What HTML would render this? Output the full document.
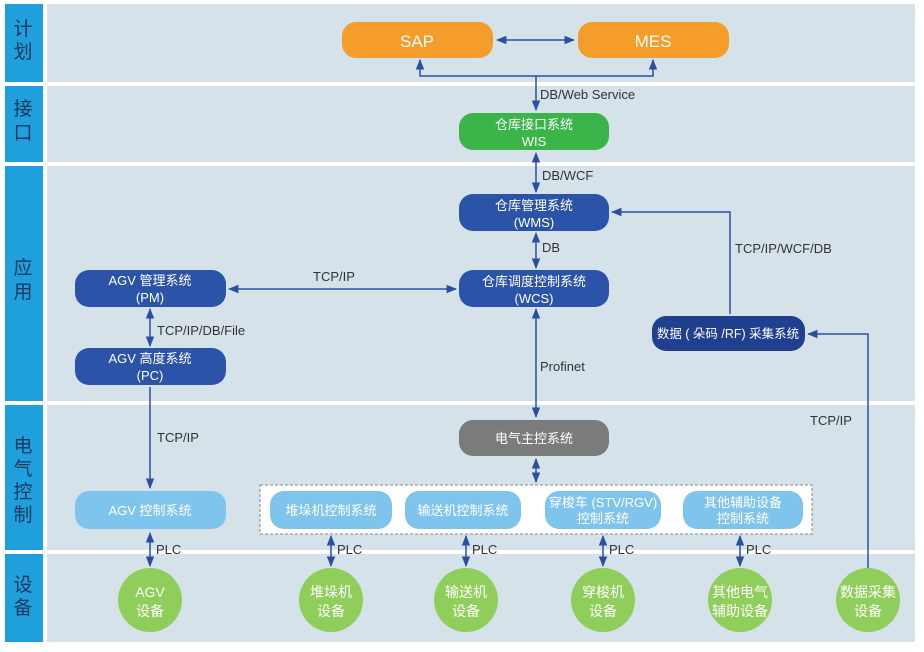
<!DOCTYPE html>
<html><head><meta charset="utf-8"><style>
html,body{margin:0;padding:0;background:#fff;}
svg text{font-family:"Liberation Sans","Noto Sans CJK SC",sans-serif;}
</style></head><body>
<svg width="924" height="647" viewBox="0 0 924 647" xmlns="http://www.w3.org/2000/svg">
<defs>
<marker id="a" viewBox="0 0 10 10" refX="9" refY="5" markerWidth="7" markerHeight="7" orient="auto-start-reverse"><path d="M0,1 L10,5 L0,9 z" fill="#2d4fa0"/></marker>
</defs>
<rect width="924" height="647" fill="#fff"/>
<g fill="#1fa0dc">
<rect x="5" y="4" width="38" height="78"/>
<rect x="5" y="86" width="38" height="76"/>
<rect x="5" y="166" width="38" height="235"/>
<rect x="5" y="405" width="38" height="145"/>
<rect x="5" y="554" width="38" height="88"/>
</g>
<g fill="#d5e2e9">
<rect x="47" y="4" width="868" height="78"/>
<rect x="47" y="86" width="868" height="76"/>
<rect x="47" y="166" width="868" height="235"/>
<rect x="47" y="405" width="868" height="145"/>
<rect x="47" y="554" width="868" height="88"/>
</g>
<g fill="#17375e" font-size="19" text-anchor="middle">
<text x="23" y="35">计</text><text x="23" y="58">划</text>
<text x="23" y="115">接</text><text x="23" y="139">口</text>
<text x="23" y="274">应</text><text x="23" y="298">用</text>
<text x="23" y="452">电</text><text x="23" y="475">气</text><text x="23" y="498">控</text><text x="23" y="521">制</text>
<text x="23" y="591">设</text><text x="23" y="614">备</text>
</g>
<rect x="342" y="22" width="151" height="36" rx="14" fill="#f59d2a"/>
<rect x="578" y="22" width="151" height="36" rx="14" fill="#f59d2a"/>
<rect x="459" y="113" width="150" height="37" rx="14" fill="#3bb54a"/>
<rect x="459" y="194" width="150" height="37" rx="14" fill="#2b53a7"/>
<rect x="459" y="270" width="150" height="37" rx="14" fill="#2b53a7"/>
<rect x="75" y="270" width="151" height="37" rx="14" fill="#2b53a7"/>
<rect x="75" y="348" width="151" height="37" rx="14" fill="#2b53a7"/>
<rect x="652" y="316" width="153" height="35" rx="14" fill="#213f8f"/>
<rect x="459" y="420" width="150" height="36" rx="14" fill="#7b7b7b"/>
<rect x="260" y="485" width="552" height="49" fill="#fff" stroke="#888" stroke-dasharray="3,2"/>
<g fill="#7fc4ec">
<rect x="75" y="491" width="151" height="38" rx="14"/>
<rect x="270" y="491" width="122" height="38" rx="14"/>
<rect x="405" y="491" width="116" height="38" rx="14"/>
<rect x="545" y="491" width="116" height="38" rx="14"/>
<rect x="683" y="491" width="120" height="38" rx="14"/>
</g>
<g fill="#8fce5a">
<circle cx="150" cy="600" r="32"/>
<circle cx="331" cy="600" r="32"/>
<circle cx="466" cy="600" r="32"/>
<circle cx="603" cy="600" r="32"/>
<circle cx="740" cy="600" r="32"/>
<circle cx="868" cy="600" r="32"/>
</g>
<g fill="#fff" text-anchor="middle" font-size="13">
<text x="417" y="47" font-size="17">SAP</text>
<text x="653" y="47" font-size="17">MES</text>
<text x="534" y="129">仓库接口系统</text><text x="534" y="146">WIS</text>
<text x="534" y="210">仓库管理系统</text><text x="534" y="227">(WMS)</text>
<text x="534" y="286">仓库调度控制系统</text><text x="534" y="303">(WCS)</text>
<text x="150" y="285">AGV 管理系统</text><text x="150" y="302">(PM)</text>
<text x="150" y="363">AGV 高度系统</text><text x="150" y="380">(PC)</text>
<text x="728" y="338" font-size="12.5">数据 ( 朵码 /RF) 采集系统</text>
<text x="534" y="443">电气主控系统</text>
<text x="150" y="515">AGV 控制系统</text>
<text x="331" y="515">堆垛机控制系统</text>
<text x="463" y="515">输送机控制系统</text>
<text x="603" y="507">穿梭车 (STV/RGV)</text><text x="603" y="523">控制系统</text>
<text x="743" y="507">其他辅助设备</text><text x="743" y="523">控制系统</text>
</g>
<g fill="#fff" text-anchor="middle" font-size="14">
<text x="150" y="597">AGV</text><text x="150" y="616">设备</text>
<text x="331" y="597">堆垛机</text><text x="331" y="616">设备</text>
<text x="466" y="597">输送机</text><text x="466" y="616">设备</text>
<text x="603" y="597">穿梭机</text><text x="603" y="616">设备</text>
<text x="740" y="597">其他电气</text><text x="740" y="616">辅助设备</text>
<text x="868" y="597">数据采集</text><text x="868" y="616">设备</text>
</g>
<g stroke="#2d4fa0" stroke-width="1.5" fill="none">
<line x1="497" y1="40" x2="574" y2="40" marker-start="url(#a)" marker-end="url(#a)"/>
<polyline points="420,60 420,76 653,76 653,60" marker-start="url(#a)" marker-end="url(#a)"/>
<line x1="536" y1="76" x2="536" y2="110" marker-end="url(#a)"/>
<line x1="536" y1="153" x2="536" y2="192" marker-start="url(#a)" marker-end="url(#a)"/>
<line x1="536" y1="233" x2="536" y2="268" marker-start="url(#a)" marker-end="url(#a)"/>
<line x1="229" y1="289" x2="456" y2="289" marker-start="url(#a)" marker-end="url(#a)"/>
<line x1="150" y1="309" x2="150" y2="346" marker-start="url(#a)" marker-end="url(#a)"/>
<line x1="536" y1="309" x2="536" y2="417" marker-start="url(#a)" marker-end="url(#a)"/>
<polyline points="730,314 730,212 612,212" marker-end="url(#a)"/>
<polyline points="868,568 868,334 808,334" marker-end="url(#a)"/>
<line x1="150" y1="387" x2="150" y2="488" marker-end="url(#a)"/>
<line x1="536" y1="459" x2="536" y2="482" marker-start="url(#a)" marker-end="url(#a)"/>
<line x1="150" y1="533" x2="150" y2="566" marker-start="url(#a)" marker-end="url(#a)"/>
<line x1="331" y1="536" x2="331" y2="566" marker-start="url(#a)" marker-end="url(#a)"/>
<line x1="466" y1="536" x2="466" y2="566" marker-start="url(#a)" marker-end="url(#a)"/>
<line x1="603" y1="536" x2="603" y2="566" marker-start="url(#a)" marker-end="url(#a)"/>
<line x1="740" y1="536" x2="740" y2="566" marker-start="url(#a)" marker-end="url(#a)"/>
</g>
<g fill="#333" font-size="13">
<text x="540" y="99">DB/Web Service</text>
<text x="542" y="180">DB/WCF</text>
<text x="542" y="252">DB</text>
<text x="313" y="281">TCP/IP</text>
<text x="157" y="335">TCP/IP/DB/File</text>
<text x="540" y="371">Profinet</text>
<text x="735" y="253">TCP/IP/WCF/DB</text>
<text x="810" y="425">TCP/IP</text>
<text x="157" y="442">TCP/IP</text>
<text x="156" y="554">PLC</text>
<text x="337" y="554">PLC</text>
<text x="472" y="554">PLC</text>
<text x="609" y="554">PLC</text>
<text x="746" y="554">PLC</text>
</g>
</svg>
</body></html>
